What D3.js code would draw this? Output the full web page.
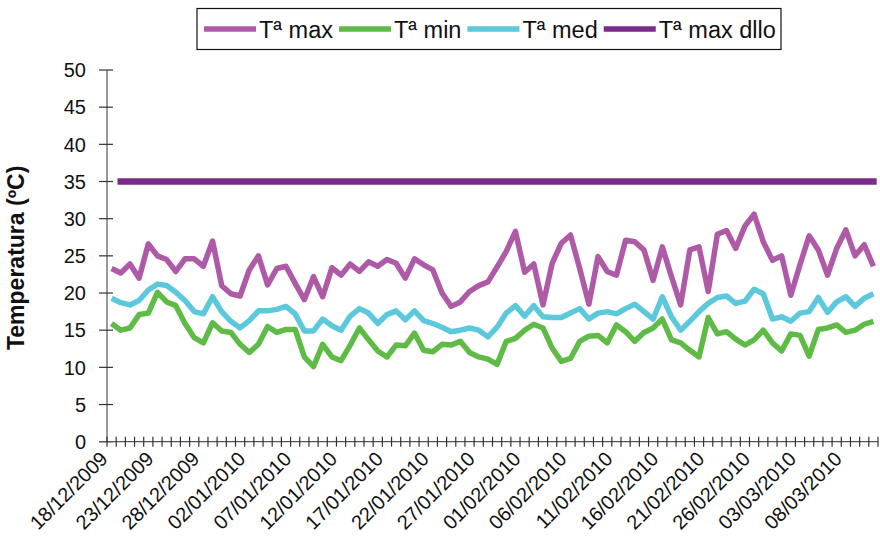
<!DOCTYPE html>
<html>
<head>
<meta charset="utf-8">
<script src="https://cdn.jsdelivr.net/npm/d3@7"></script>
<style>
  html, body { margin: 0; padding: 0; background: #fff; }
  svg { display: block; font-family: "Liberation Sans", Arial, sans-serif; }
</style>
</head>
<body>
<svg id="chart" width="880" height="540"></svg>
<script>
// ---- data ----
const dates = [
  "18/12/2009","19/12/2009","20/12/2009","21/12/2009","22/12/2009","23/12/2009","24/12/2009","25/12/2009","26/12/2009","27/12/2009",
  "28/12/2009","29/12/2009","30/12/2009","31/12/2009","01/01/2010","02/01/2010","03/01/2010","04/01/2010","05/01/2010","06/01/2010",
  "07/01/2010","08/01/2010","09/01/2010","10/01/2010","11/01/2010","12/01/2010","13/01/2010","14/01/2010","15/01/2010","16/01/2010",
  "17/01/2010","18/01/2010","19/01/2010","20/01/2010","21/01/2010","22/01/2010","23/01/2010","24/01/2010","25/01/2010","26/01/2010",
  "27/01/2010","28/01/2010","29/01/2010","30/01/2010","31/01/2010","01/02/2010","02/02/2010","03/02/2010","04/02/2010","05/02/2010",
  "06/02/2010","07/02/2010","08/02/2010","09/02/2010","10/02/2010","11/02/2010","12/02/2010","13/02/2010","14/02/2010","15/02/2010",
  "16/02/2010","17/02/2010","18/02/2010","19/02/2010","20/02/2010","21/02/2010","22/02/2010","23/02/2010","24/02/2010","25/02/2010",
  "26/02/2010","27/02/2010","28/02/2010","01/03/2010","02/03/2010","03/03/2010","04/03/2010","05/03/2010","06/03/2010","07/03/2010",
  "08/03/2010","09/03/2010","10/03/2010","11/03/2010"
];
const tickLabels = ["18/12/2009","23/12/2009","28/12/2009","02/01/2010","07/01/2010","12/01/2010","17/01/2010","22/01/2010","27/01/2010",
  "01/02/2010","06/02/2010","11/02/2010","16/02/2010","21/02/2010","26/02/2010","03/03/2010","08/03/2010"];
const yTicks = [0,5,10,15,20,25,30,35,40,45,50];

const tMax = [23.3,22.7,23.9,22.0,26.6,25.0,24.5,22.9,24.6,24.6,23.6,27.0,21.0,19.9,19.6,23.1,25.0,21.1,23.3,23.6,
  21.3,19.1,22.2,19.5,23.4,22.4,23.9,22.9,24.2,23.6,24.5,24.0,22.0,24.6,23.8,23.1,20.0,18.2,18.8,20.2,
  21.0,21.5,23.5,25.6,28.3,22.8,23.9,18.4,24.0,26.7,27.8,23.3,18.5,24.9,22.9,22.4,27.1,26.9,25.8,21.7,
  26.2,22.2,18.4,25.8,26.2,20.2,27.9,28.4,26.0,29.0,30.6,26.9,24.4,25.0,19.7,23.8,27.7,25.8,22.4,26.0,
  28.5,25.0,26.5,23.6];
const tMin = [15.9,15.0,15.3,17.1,17.3,20.1,18.8,18.3,15.9,14.0,13.3,16.0,14.9,14.7,13.1,12.0,13.1,15.5,14.7,15.1,
  15.1,11.4,10.1,13.1,11.4,10.9,13.0,15.3,13.7,12.2,11.4,13.0,12.9,14.6,12.3,12.1,13.1,13.0,13.5,12.0,
  11.4,11.1,10.4,13.5,13.9,15.0,15.8,15.3,12.6,10.8,11.2,13.5,14.2,14.3,13.3,15.7,14.8,13.5,14.7,15.3,
  16.5,13.7,13.3,12.3,11.4,16.7,14.5,14.8,13.8,13.0,13.7,15.0,13.3,12.2,14.5,14.3,11.5,15.1,15.3,15.7,
  14.7,15.0,15.8,16.2];
const tMed = [19.3,18.7,18.4,19.0,20.4,21.2,21.0,20.1,19.0,17.5,17.2,19.5,17.5,16.2,15.3,16.3,17.6,17.6,17.8,18.2,
  17.2,14.9,14.9,16.5,15.6,15.0,16.9,17.9,17.3,15.9,17.1,17.6,16.4,17.6,16.3,15.9,15.4,14.8,15.0,15.3,
  15.0,14.1,15.4,17.3,18.3,16.9,18.3,16.8,16.7,16.7,17.3,17.9,16.5,17.3,17.5,17.2,17.9,18.5,17.5,16.5,
  19.5,16.8,15.0,16.2,17.5,18.6,19.4,19.6,18.6,18.9,20.5,19.9,16.5,16.8,16.2,17.3,17.5,19.4,17.4,18.8,
  19.5,18.2,19.3,19.9];
const tMaxDllo = [null,35,35,35,35,35,35,35,35,35,35,35,35,35,35,35,35,35,35,35,
  35,35,35,35,35,35,35,35,35,35,35,35,35,35,35,35,35,35,35,35,
  35,35,35,35,35,35,35,35,35,35,35,35,35,35,35,35,35,35,35,35,
  35,35,35,35,35,35,35,35,35,35,35,35,35,35,35,35,35,35,35,35,
  35,35,35,35];

const seriesNames = ["Tª max","Tª min","Tª med","Tª max dllo"];
const seriesColors = ["#AE5AA6","#5EBB46","#5BC8DC","#7B2A8B"];
const seriesValues = [tMax, tMin, tMed, tMaxDllo];

// ---- layout ----
const svg = d3.select("#chart");
const x0 = 107, x1 = 878, yTop = 70, yBot = 441.7;

const x = d3.scaleBand().domain(dates).range([x0, x1]).paddingInner(0).paddingOuter(0);
const y = d3.scaleLinear().domain([0, 50]).range([yBot, yTop]);
const cx = d => x(d) + x.bandwidth() / 2;

// Y axis
const yAxisG = svg.append("g").attr("transform", `translate(${x0},0)`);
yAxisG.append("line").attr("x1", 0).attr("x2", 0).attr("y1", yTop).attr("y2", yBot)
  .attr("stroke", "#555").attr("stroke-width", 1.2);
yAxisG.selectAll("line.tick").data(yTicks).join("line")
  .attr("class", "tick").attr("x1", -8).attr("x2", 6)
  .attr("y1", d => y(d)).attr("y2", d => y(d)).attr("stroke", "#333").attr("stroke-width", 1.2);
yAxisG.selectAll("text").data(yTicks).join("text")
  .attr("x", -21).attr("y", d => y(d)).attr("dy", "0.36em")
  .attr("text-anchor", "end").attr("font-size", 20).attr("fill", "#111")
  .text(d => d);

// X axis
const xAxisG = svg.append("g");
xAxisG.append("line").attr("x1", x0 - 8).attr("x2", x1).attr("y1", yBot).attr("y2", yBot)
  .attr("stroke", "#555").attr("stroke-width", 1.2);
const boundaries = dates.map(d => x(d)).concat([x1]);
xAxisG.selectAll("line.tick").data(boundaries).join("line")
  .attr("class", "tick")
  .attr("x1", d => d).attr("x2", d => d).attr("y1", yBot - 5).attr("y2", yBot + 5)
  .attr("stroke", "#333").attr("stroke-width", 1.2);
xAxisG.selectAll("text").data(tickLabels).join("text")
  .attr("transform", d => `translate(${cx(d) - 9},${yBot + 12}) rotate(-45)`)
  .attr("text-anchor", "end").attr("dy", "0.45em")
  .attr("font-size", 20).attr("fill", "#111")
  .text(d => d);

// Y title
svg.append("text")
  .attr("transform", `translate(24,${(yTop + yBot) / 2 + 2}) rotate(-90)`)
  .attr("text-anchor", "middle").attr("font-size", 23).attr("font-weight", "bold").attr("fill", "#111")
  .text("Temperatura (ºC)");

// Lines
const line = d3.line().defined(d => d.v != null).x(d => cx(d.date)).y(d => y(d.v));
seriesValues.forEach((vals, k) => {
  const pts = dates.map((date, i) => ({ date, v: vals[i] }));
  svg.append("path").datum(pts)
    .attr("d", line)
    .attr("fill", "none")
    .attr("stroke", seriesColors[k])
    .attr("stroke-width", k === 3 ? 6.5 : 5.5)
    .attr("stroke-linejoin", "round")
    .attr("stroke-linecap", k === 3 ? "square" : "butt");
});

// Legend
const lg = svg.append("g");
lg.append("rect").attr("x", 197).attr("y", 8.5).attr("width", 584).attr("height", 41)
  .attr("fill", "#fff").attr("stroke", "#111").attr("stroke-width", 1.2);
let lx = 204;
seriesNames.forEach((name, k) => {
  lg.append("line").attr("x1", lx).attr("x2", lx + 52).attr("y1", 29).attr("y2", 29)
    .attr("stroke", seriesColors[k]).attr("stroke-width", 5.5);
  const t = lg.append("text").attr("x", lx + 55).attr("y", 37.5)
    .attr("font-size", 23.5).attr("fill", "#111").text(name);
  lx += 55 + t.node().getComputedTextLength() + 6;
});
</script>
</body>
</html>
